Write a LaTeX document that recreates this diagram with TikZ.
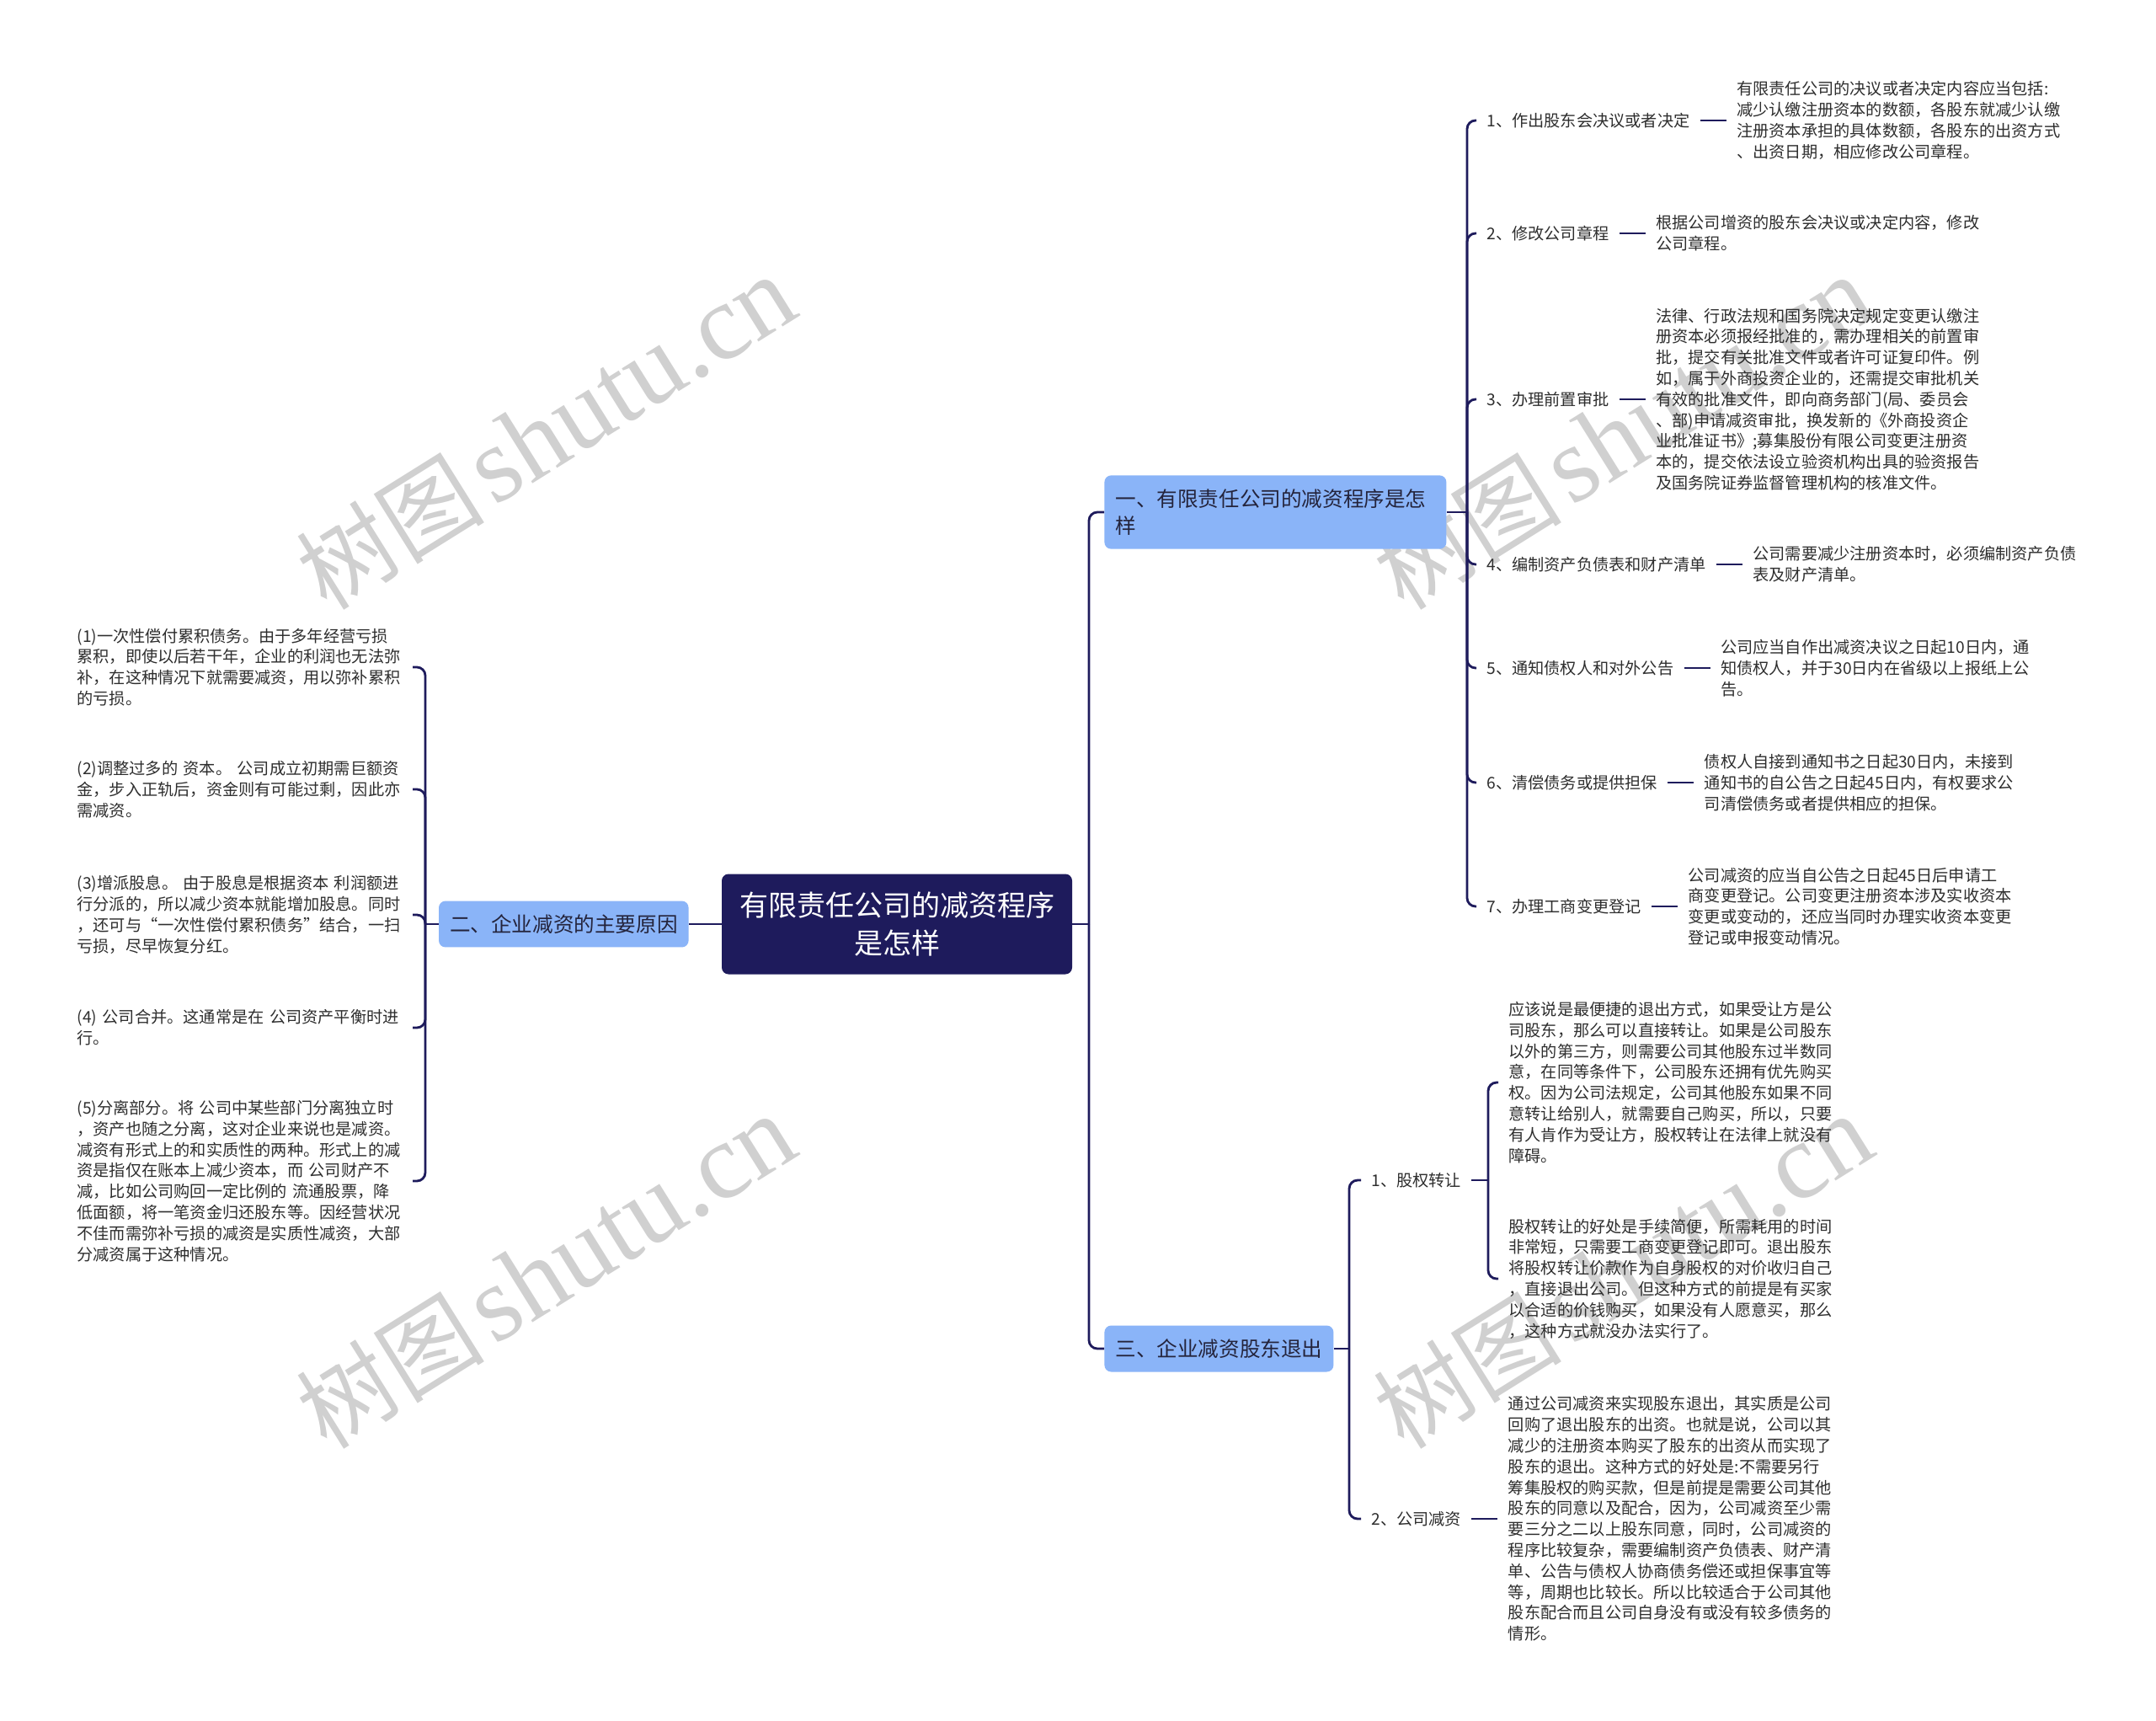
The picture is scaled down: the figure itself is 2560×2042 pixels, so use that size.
\documentclass[tikz,border=0pt]{standalone}
\usepackage{fontspec}
\setmainfont{Noto Sans CJK SC}
\newfontfamily\wmserif{Liberation Serif}
\usepackage{xcolor}
\usetikzlibrary{positioning}
\definecolor{navy}{HTML}{1E1B5C}
\definecolor{lightblue}{HTML}{8AB4F8}
\definecolor{boxtext}{HTML}{24243C}
\definecolor{inkgray}{HTML}{2E2E2E}
\definecolor{wmgray}{HTML}{D0D0D0}
\newcommand{\wmtext}{{\fontsize{56}{56}\selectfont 树图}\hspace{0.55em}{\wmserif\fontsize{64}{64}\selectfont shutu.cn}}
\tikzset{
  root/.style={fill=navy, text=white, rounded corners=4pt, align=center,
    minimum width=208pt, minimum height=59.5pt, inner sep=2pt,
    font=\fontsize{17}{22.5}\selectfont},
  branch/.style={fill=lightblue, text=boxtext, rounded corners=4pt, align=left,
    inner xsep=6.5pt, inner ysep=8pt, font=\fontsize{12.3}{16.3}\selectfont},
  item/.style={text=inkgray, inner xsep=6pt, inner ysep=2pt,
    font=\fontsize{9.6}{12.4}\selectfont},
  leaf/.style={text=inkgray, align=left, inner xsep=6pt, inner ysep=2pt,
    font=\fontsize{9.6}{12.4}\selectfont},
  link/.style={draw=navy, line width=1.4pt, rounded corners=5pt},
  watermark/.style={text=wmgray, rotate=32, inner sep=0pt},
}
\begin{document}
\begin{tikzpicture}[x=0.5pt, y=-0.5pt]
  \fill[white] (0,0) rectangle (2560,2042);
  \useasboundingbox (0,0) rectangle (2560,2042);
  % watermarks
  \foreach \wx/\wy [count=\k] in {648/514, 648/1510, 1927/514, 1927/1510}
    \node[watermark] (wm\k) at (\wx,\wy) {\wmtext};

  % root and main branches
  \node[root] (root) at (1065,1097) {有限责任公司的减资程序\\是怎样};
  \node[branch, anchor=west, text width=190pt] (b1) at (1311,608) {一、有限责任公司的减资程序是怎\\样};
  \node[branch, anchor=east] (b2) at (818,1097) {二、企业减资的主要原因};
  \node[branch, anchor=west] (b3) at (1311,1601) {三、企业减资股东退出};

  % branch one: steps
  \node[item, anchor=west] (p1) at (1753,143) {1、作出股东会决议或者决定};
  \node[item, anchor=west] (p2) at (1753,277) {2、修改公司章程};
  \node[item, anchor=west] (p3) at (1753,474) {3、办理前置审批};
  \node[item, anchor=west] (p4) at (1753,670) {4、编制资产负债表和财产清单};
  \node[item, anchor=west] (p5) at (1753,793) {5、通知债权人和对外公告};
  \node[item, anchor=west] (p6) at (1753,929) {6、清偿债务或提供担保};
  \node[item, anchor=west] (p7) at (1753,1076) {7、办理工商变更登记};

  \node[leaf, right=15.5pt of p1] (q1) {有限责任公司的决议或者决定内容应当包括:\\减少认缴注册资本的数额，各股东就减少认缴\\注册资本承担的具体数额，各股东的出资方式\\、出资日期，相应修改公司章程。};
  \node[leaf, right=15.5pt of p2] (q2) {根据公司增资的股东会决议或决定内容，修改\\公司章程。};
  \node[leaf, right=15.5pt of p3] (q3) {法律、行政法规和国务院决定规定变更认缴注\\册资本必须报经批准的，需办理相关的前置审\\批，提交有关批准文件或者许可证复印件。例\\如，属于外商投资企业的，还需提交审批机关\\有效的批准文件，即向商务部门(局、委员会\\、部)申请减资审批，换发新的《外商投资企\\业批准证书》;募集股份有限公司变更注册资\\本的，提交依法设立验资机构出具的验资报告\\及国务院证券监督管理机构的核准文件。};
  \node[leaf, right=15.5pt of p4] (q4) {公司需要减少注册资本时，必须编制资产负债\\表及财产清单。};
  \node[leaf, right=15.5pt of p5] (q5) {公司应当自作出减资决议之日起10日内，通\\知债权人，并于30日内在省级以上报纸上公\\告。};
  \node[leaf, right=15.5pt of p6] (q6) {债权人自接到通知书之日起30日内，未接到\\通知书的自公告之日起45日内，有权要求公\\司清偿债务或者提供相应的担保。};
  \node[leaf, right=15.5pt of p7] (q7) {公司减资的应当自公告之日起45日后申请工\\商变更登记。公司变更注册资本涉及实收资本\\变更或变动的，还应当同时办理实收资本变更\\登记或申报变动情况。};

  % branch two: reasons
  \node[leaf, text width=193pt, anchor=east] (l1) at (490,792) {(1)一次性偿付累积债务。由于多年经营亏损\\累积，即使以后若干年，企业的利润也无法弥\\补，在这种情况下就需要减资，用以弥补累积\\的亏损。};
  \node[leaf, text width=193pt, anchor=east] (l2) at (490,937) {(2)调整过多的~资本。~公司成立初期需巨额资\\金，步入正轨后，资金则有可能过剩，因此亦\\需减资。};
  \node[leaf, text width=193pt, anchor=east] (l3) at (490,1086) {(3)增派股息。~由于股息是根据资本~利润额进\\行分派的，所以减少资本就能增加股息。同时\\，还可与“一次性偿付累积债务”结合，一扫\\亏损，尽早恢复分红。};
  \node[leaf, text width=193pt, anchor=east] (l4) at (490,1220) {(4)~公司合并。这通常是在~公司资产平衡时进\\行。};
  \node[leaf, text width=193pt, anchor=east] (l5) at (490,1402) {(5)分离部分。将~公司中某些部门分离独立时\\，资产也随之分离，这对企业来说也是减资。\\减资有形式上的和实质性的两种。形式上的减\\资是指仅在账本上减少资本，而~公司财产不\\减，比如公司购回一定比例的~流通股票，降\\低面额，将一笔资金归还股东等。因经营状况\\不佳而需弥补亏损的减资是实质性减资，大部\\分减资属于这种情况。};

  % branch three: exit
  \node[item, anchor=west] (t1) at (1616,1401) {1、股权转让};
  \node[item, anchor=west] (t2) at (1616,1803) {2、公司减资};
  \node[leaf, anchor=west] (u1) at (1779,1285) {应该说是最便捷的退出方式，如果受让方是公\\司股东，那么可以直接转让。如果是公司股东\\以外的第三方，则需要公司其他股东过半数同\\意，在同等条件下，公司股东还拥有优先购买\\权。因为公司法规定，公司其他股东如果不同\\意转让给别人，就需要自己购买，所以，只要\\有人肯作为受让方，股权转让在法律上就没有\\障碍。};
  \node[leaf, anchor=west] (u2) at (1779,1518) {股权转让的好处是手续简便，所需耗用的时间\\非常短，只需要工商变更登记即可。退出股东\\将股权转让价款作为自身股权的对价收归自己\\，直接退出公司。但这种方式的前提是有买家\\以合适的价钱购买，如果没有人愿意买，那么\\，这种方式就没办法实行了。};
  \node[leaf, right=15.5pt of t2] (u3) {通过公司减资来实现股东退出，其实质是公司\\回购了退出股东的出资。也就是说，公司以其\\减少的注册资本购买了股东的出资从而实现了\\股东的退出。这种方式的好处是:不需要另行\\筹集股权的购买款，但是前提是需要公司其他\\股东的同意以及配合，因为，公司减资至少需\\要三分之二以上股东同意，同时，公司减资的\\程序比较复杂，需要编制资产负债表、财产清\\单、公告与债权人协商债务偿还或担保事宜等\\等，周期也比较长。所以比较适合于公司其他\\股东配合而且公司自身没有或没有较多债务的\\情形。};

  % connectors
  \coordinate (rs) at (1293,1097);
  \coordinate (ls) at (505,1097);
  \coordinate (s1) at (1742,608);
  \coordinate (s3) at (1602,1601);
  \coordinate (s4) at (1767,1401);
  \draw[link] (root.east) -- (rs);
  \draw[link] (rs) |- (b1.west);
  \draw[link] (rs) |- (b3.west);
  \draw[link] (root.west) -- (b2.east);
  \draw[link] (b2.west) -- (ls);
  \foreach \i in {1,...,5}
    \draw[link] (ls) |- (l\i.east);
  \draw[link] (b1.east) -- (s1);
  \foreach \i in {1,...,7} {
    \draw[link] (s1) |- (p\i.west);
    \draw[link] (p\i.east) -- (q\i.west);
  }
  \draw[link] (b3.east) -- (s3);
  \draw[link] (s3) |- (t1.west);
  \draw[link] (s3) |- (t2.west);
  \draw[link] (t1.east) -- (s4);
  \draw[link] (s4) |- (u1.west);
  \draw[link] (s4) |- (u2.west);
  \draw[link] (t2.east) -- (u3.west);
\end{tikzpicture}
\end{document}
